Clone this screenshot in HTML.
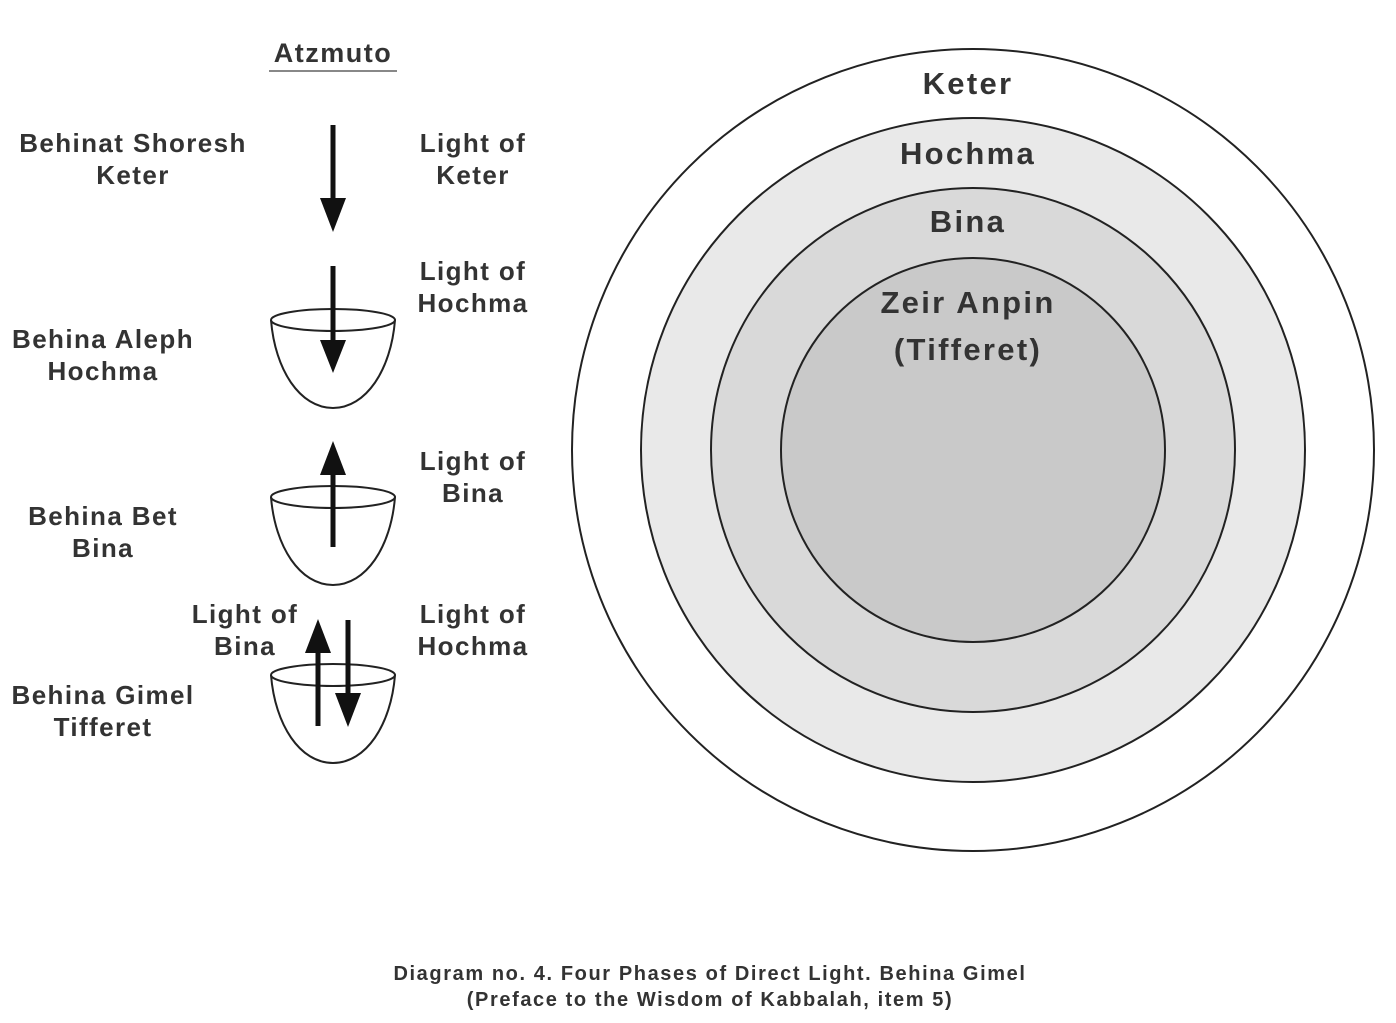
<!DOCTYPE html>
<html><head><style>
body{margin:0;background:#fff}
svg text{font-family:"Liberation Sans",sans-serif;font-weight:bold;fill:#333}
</style></head><body>
<svg width="1396" height="1018" viewBox="0 0 1396 1018" xmlns="http://www.w3.org/2000/svg">
<g stroke="#222" stroke-width="2">
<circle cx="973" cy="450" r="401" fill="#fff"/>
<circle cx="973" cy="450" r="332" fill="#e9e9e9"/>
<circle cx="973" cy="450" r="262" fill="#d9d9d9"/>
<circle cx="973" cy="450" r="192" fill="#c9c9c9"/>
</g>
<g font-size="31" text-anchor="middle" letter-spacing="2.3">
<text x="968" y="94">Keter</text>
<text x="968" y="164">Hochma</text>
<text x="968" y="232">Bina</text>
<text x="968" y="313">Zeir Anpin</text>
<text x="968" y="360">(Tifferet)</text>
</g>
<text x="333" y="62" font-size="27" text-anchor="middle" letter-spacing="1.5">Atzmuto</text>
<line x1="269" y1="71" x2="397" y2="71" stroke="#888" stroke-width="2"/>
<g font-size="26" text-anchor="middle" letter-spacing="1.4">
<text x="133" y="152">Behinat Shoresh</text><text x="133" y="184">Keter</text>
<text x="473" y="152">Light of</text><text x="473" y="184">Keter</text>
<text x="473" y="280">Light of</text><text x="473" y="312">Hochma</text>
<text x="103" y="348">Behina Aleph</text><text x="103" y="380">Hochma</text>
<text x="473" y="470">Light of</text><text x="473" y="502">Bina</text>
<text x="103" y="525">Behina Bet</text><text x="103" y="557">Bina</text>
<text x="245" y="623">Light of</text><text x="245" y="655">Bina</text>
<text x="473" y="623">Light of</text><text x="473" y="655">Hochma</text>
<text x="103" y="704">Behina Gimel</text><text x="103" y="736">Tifferet</text>
</g>
<g fill="none" stroke="#222" stroke-width="2">
<ellipse cx="333" cy="320" rx="62" ry="11"/><path d="M271,320 C275,370 300,408 333,408 C366,408 391,370 395,320"/>
<ellipse cx="333" cy="497" rx="62" ry="11"/><path d="M271,497 C275,547 300,585 333,585 C366,585 391,547 395,497"/>
<ellipse cx="333" cy="675" rx="62" ry="11"/><path d="M271,675 C275,725 300,763 333,763 C366,763 391,725 395,675"/>
</g>
<g fill="#111" stroke="#111">
<line x1="333" y1="125" x2="333" y2="205" stroke-width="5"/><polygon points="320,198 346,198 333,232" stroke="none"/>
<line x1="333" y1="266" x2="333" y2="345" stroke-width="5"/><polygon points="320,340 346,340 333,373" stroke="none"/>
<line x1="333" y1="547" x2="333" y2="470" stroke-width="5"/><polygon points="320,475 346,475 333,441" stroke="none"/>
<line x1="318" y1="726" x2="318" y2="648" stroke-width="5"/><polygon points="305,653 331,653 318,619" stroke="none"/>
<line x1="348" y1="620" x2="348" y2="698" stroke-width="5"/><polygon points="335,693 361,693 348,727" stroke="none"/>
</g>
<g font-size="20" text-anchor="middle" letter-spacing="1.6">
<text x="710" y="980">Diagram no. 4. Four Phases of Direct Light. Behina Gimel</text>
<text x="710" y="1006">(Preface to the Wisdom of Kabbalah, item 5)</text>
</g>
</svg>
</body></html>
